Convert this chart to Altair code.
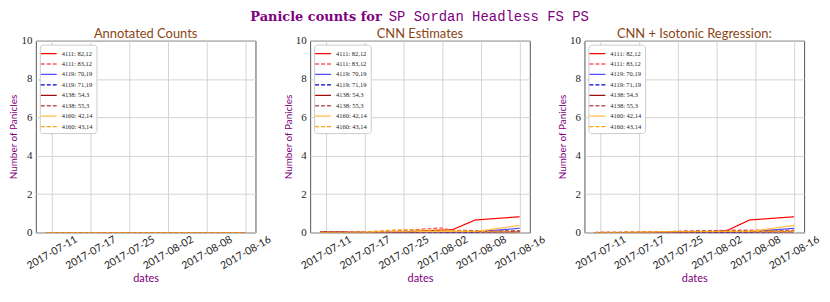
import altair as alt
import pandas as pd

# ---- data ----
tick_pos = [0, 1, 2, 3, 4, 5]
tick_labels = ["2017-07-11", "2017-07-17", "2017-07-25", "2017-08-02", "2017-08-08", "2017-08-16"]
x_pos = [-0.15, 1.0, 1.8, 2.95, 3.27, 3.85, 5.0]

series = ["4111: 82,12", "4111: 83,12", "4119: 70,19", "4119: 71,19",
          "4138: 54,3", "4138: 55,3", "4160: 42,14", "4160: 43,14"]
colors = ["#ff0000", "#ff5a5a", "#5050ff", "#0000cc",
          "#9b0f0f", "#b85c5c", "#ffbf45", "#ffa500"]
dashes = [[1, 0], [4, 2], [1, 0], [4, 2], [1, 0], [4, 2], [1, 0], [4, 2]]

annotated = {
    "4111: 82,12": [0, 0, 0, 0, 0, 0, 0],
    "4111: 83,12": [0, 0, 0, 0, 0, 0, 0],
    "4119: 70,19": [0, 0, 0, 0, 0, 0, 0],
    "4119: 71,19": [0, 0, 0, 0, 0, 0, 0],
    "4138: 54,3": [0, 0, 0, 0, 0, 0, 0],
    "4138: 55,3": [0, 0, 0, 0, 0, 0, 0],
    "4160: 42,14": [0, 0, 0, 0, 0, 0, 0],
    "4160: 43,14": [0, 0, 0, 0, 0, 0, 0],
}
cnn = {
    "4111: 82,12": [0.03, 0.0, 0.02, 0.12, 0.15, 0.65, 0.82],
    "4111: 83,12": [0.03, 0.02, 0.08, 0.24, 0.12, 0.10, 0.08],
    "4119: 70,19": [0.0, 0.0, 0.0, 0.02, 0.02, 0.03, 0.22],
    "4119: 71,19": [0.02, 0.0, 0.0, 0.0, 0.0, 0.0, 0.05],
    "4138: 54,3": [0.03, 0.0, 0.0, 0.02, 0.02, 0.02, 0.02],
    "4138: 55,3": [0.05, 0.02, 0.05, 0.10, 0.10, 0.08, 0.10],
    "4160: 42,14": [0.0, 0.0, 0.03, 0.05, 0.05, 0.05, 0.37],
    "4160: 43,14": [0.0, 0.02, 0.14, 0.12, 0.10, 0.05, 0.02],
}
iso = {
    "4111: 82,12": [0.0, 0.0, 0.02, 0.05, 0.10, 0.65, 0.82],
    "4111: 83,12": [0.0, 0.02, 0.05, 0.10, 0.12, 0.12, 0.12],
    "4119: 70,19": [0.0, 0.0, 0.0, 0.02, 0.02, 0.03, 0.22],
    "4119: 71,19": [0.0, 0.0, 0.0, 0.0, 0.0, 0.0, 0.05],
    "4138: 54,3": [0.0, 0.0, 0.0, 0.02, 0.02, 0.02, 0.02],
    "4138: 55,3": [0.0, 0.02, 0.05, 0.10, 0.10, 0.10, 0.10],
    "4160: 42,14": [0.0, 0.0, 0.02, 0.05, 0.05, 0.05, 0.37],
    "4160: 43,14": [0.0, 0.02, 0.05, 0.05, 0.06, 0.06, 0.06],
}
panel_titles = ["Annotated Counts", "CNN Estimates", "CNN + Isotonic Regression:"]
title_part1 = "Panicle counts for"
title_part2 = "SP Sordan Headless FS PS"

PURPLE = "#800080"
BROWN = "#8B4513"
W, H = 221, 193

label_expr = "[" + ",".join("'%s'" % t for t in tick_labels) + "][datum.value]"


def make_df(values):
    rows = []
    for s in series:
        for x, v in zip(x_pos, values[s]):
            rows.append({"series": s, "x": x, "v": v})
    return pd.DataFrame(rows)


legend = alt.Legend(
    title=None, orient="top-left", offset=4, padding=3,
    fillColor="white", strokeColor="#cccccc", cornerRadius=3,
    symbolType="M-1.6,0L1.6,0", symbolSize=100, symbolStrokeWidth=1.3,
    labelFontSize=6.5, labelFont="Liberation Serif", labelColor="#222",
    rowPadding=0.5, labelOffset=7,
)


def text_layer(txt, x, y, **kw):
    return alt.Chart(pd.DataFrame({"t": [txt]})).mark_text(**kw).encode(
        text="t:N", x=alt.value(x), y=alt.value(y))


def panel(values, title, main_title=False):
    df = make_df(values)
    lines = alt.Chart(df).mark_line(strokeWidth=1.2, clip=True).encode(
        x=alt.X("x:Q",
                scale=alt.Scale(domain=[-0.41, 5.26], nice=False, zero=False),
                axis=alt.Axis(values=tick_pos, labelExpr=label_expr, title="dates",
                              labelAngle=-30, labelAlign="center", labelBaseline="middle",
                              labelPadding=20, ticks=False, labelFont="Lato",
                              labelFontSize=10.5, labelOverlap=False, titlePadding=1,
                              titleFontSize=11)),
        y=alt.Y("v:Q", scale=alt.Scale(domain=[0, 10], nice=False),
                axis=alt.Axis(values=[0, 2, 4, 6, 8, 10], title="Number of Panicles",
                              ticks=False, labelPadding=4, labelFont="Liberation Serif",
                              labelFontSize=11, titlePadding=2, titleFontSize=10)),
        color=alt.Color("series:N", scale=alt.Scale(domain=series, range=colors), legend=legend),
        strokeDash=alt.StrokeDash("series:N", scale=alt.Scale(domain=series, range=dashes), legend=legend),
    )
    layers = [lines,
              text_layer(title, W / 2, -7, align="center", baseline="middle",
                         font="Lato", fontSize=13, color=BROWN)]
    if main_title:
        layers.append(text_layer(title_part1, 72, -24, align="right", baseline="middle",
                                 font="DejaVu Serif", fontWeight="bold", fontSize=13,
                                 color=PURPLE))
        layers.append(text_layer(title_part2, 79, -24, align="left", baseline="middle",
                                 font="Liberation Mono", fontSize=14, color=PURPLE))
    return alt.layer(*layers).properties(width=W, height=H)


chart = alt.hconcat(
    panel(annotated, panel_titles[0]),
    panel(cnn, panel_titles[1], main_title=True),
    panel(iso, panel_titles[2]),
    spacing=55, bounds="flush",
).resolve_legend(color="independent", strokeDash="independent").properties(
    padding={"left": 0, "top": 0, "right": 0, "bottom": 2}
).configure_axis(
    gridColor="#d4d4d4", gridWidth=1, domain=False, labelColor="#222",
    titleColor=PURPLE, titleFont="Lato", titleFontWeight="normal",
).configure_view(stroke="#555555", strokeWidth=1)

chart.save("out.html", embed_options={"renderer": "svg", "actions": False})
